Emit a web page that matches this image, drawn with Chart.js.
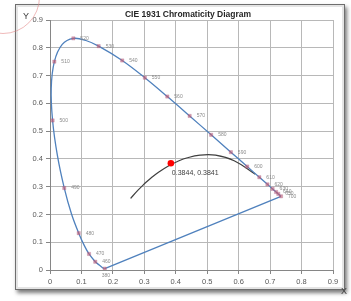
<!DOCTYPE html>
<html>
<head>
<meta charset="utf-8">
<script src="https://cdn.jsdelivr.net/npm/chart.js@4.4.0/dist/chart.umd.min.js"></script>
<style>
html, body { margin: 0; padding: 0; background: #fff; }
#wrap { position: relative; width: 351px; height: 301px; overflow: hidden; }
#frame { position: absolute; left: 15px; top: 4px; width: 328px; height: 284px; border: 1px solid #6e6e6e;
  box-shadow: inset 0 0 0 2px #e4e4e4, 2px 3px 4px #7a7a7a; background: #fff; }
#ring { position: absolute; left: -34px; top: -40px; width: 72px; height: 72px;
  border: 1px solid rgba(225,130,130,0.55); border-radius: 50%; }
canvas { position: absolute; left: 0; top: 0; }
</style>
</head>
<body>
<div id="wrap">
  <div id="frame"></div>
  <canvas id="chart" width="351" height="301"></canvas>
  <div id="ring"></div>
</div>
<script>
// spectral locus (nm, x, y)
const locusNm = [380, 390, 400, 410, 420, 430, 440, 450, 460, 470, 475, 480, 485, 490, 495, 500, 505, 510, 515, 520,
  525, 530, 540, 550, 560, 570, 580, 590, 600, 610, 620, 630, 640, 650, 660, 680, 700];
const locusX = [0.1741, 0.1738, 0.1733, 0.1726, 0.1714, 0.1689, 0.1644, 0.1566, 0.1440, 0.1241, 0.1096, 0.0913, 0.0687, 0.0454, 0.0235, 0.0082, 0.0039, 0.0139, 0.0389, 0.0743,
  0.1142, 0.1547, 0.2296, 0.3016, 0.3731, 0.4441, 0.5125, 0.5752, 0.6270, 0.6658, 0.6915, 0.7079, 0.7190, 0.7260, 0.7300, 0.7334, 0.7347];
const locusY = [0.0050, 0.0049, 0.0048, 0.0048, 0.0051, 0.0069, 0.0109, 0.0177, 0.0297, 0.0578, 0.0868, 0.1327, 0.2007, 0.2950, 0.4127, 0.5384, 0.6548, 0.7502, 0.8120, 0.8338,
  0.8262, 0.8059, 0.7543, 0.6923, 0.6245, 0.5547, 0.4866, 0.4242, 0.3725, 0.3340, 0.3083, 0.2920, 0.2809, 0.2740, 0.2700, 0.2666, 0.2653];

// labelled wavelength markers
const markerNm = [380, 460, 470, 480, 490, 500, 510, 520, 530, 540, 550, 560, 570, 580, 590, 600, 610, 620, 630, 640, 650, 700];
const markerX = [0.1741, 0.1440, 0.1241, 0.0913, 0.0454, 0.0082, 0.0139, 0.0743, 0.1547, 0.2296, 0.3016, 0.3731, 0.4441, 0.5125, 0.5752, 0.6270, 0.6658, 0.6915, 0.7079, 0.7190, 0.7260, 0.7347];
const markerY = [0.0050, 0.0297, 0.0578, 0.1327, 0.2950, 0.5384, 0.7502, 0.8338, 0.8059, 0.7543, 0.6923, 0.6245, 0.5547, 0.4866, 0.4242, 0.3725, 0.3340, 0.3083, 0.2920, 0.2809, 0.2740, 0.2653];

// planckian locus, 20000K down to 1000K
const planckX = [0.2565, 0.2637, 0.2807, 0.2952, 0.3064, 0.3221, 0.3451, 0.3805, 0.4053, 0.4369, 0.4770, 0.5265, 0.5857, 0.6528];
const planckY = [0.2574, 0.2673, 0.2883, 0.3048, 0.3166, 0.3318, 0.3516, 0.3768, 0.3907, 0.4041, 0.4137, 0.4133, 0.3931, 0.3444];

// measured point
const testX = [0.3844];
const testY = [0.3841];

const xTicks = [0, 0.1, 0.2, 0.3, 0.4, 0.5, 0.6, 0.7, 0.8, 0.9];
const yTicks = [0, 0.1, 0.2, 0.3, 0.4, 0.5, 0.6, 0.7, 0.8, 0.9];

const pts = (xs, ys) => xs.map((x, i) => ({ x: x, y: ys[i] }));
const last = locusX.length - 1;

const textPlugin = {
  id: 'texts',
  afterDatasetsDraw(chart) {
    const c = chart.ctx;
    const sx = chart.scales.x, sy = chart.scales.y;
    c.save();
    // wavelength labels
    c.font = '5px "Liberation Sans"';
    c.fillStyle = '#8a8a8a';
    c.textBaseline = 'middle';
    c.textAlign = 'left';
    markerNm.forEach((nm, i) => {
      const px = sx.getPixelForValue(markerX[i]);
      const py = sy.getPixelForValue(markerY[i]);
      if (nm === 380) c.fillText(nm, px - 3, py + 7);
      else c.fillText(nm, px + 7, py);
    });
    // measured point label
    c.font = '7px "Liberation Sans"';
    c.fillStyle = '#404040';
    c.fillText(testX[0] + ', ' + testY[0], sx.getPixelForValue(testX[0]) + 1, sy.getPixelForValue(testY[0]) + 10);
    // title
    c.font = 'bold 8.5px "Liberation Sans"';
    c.fillStyle = '#262626';
    c.textAlign = 'center';
    c.fillText('CIE 1931 Chromaticity Diagram', 188, 15);
    // axis letters
    c.font = '9px "Liberation Sans"';
    c.fillStyle = '#404040';
    c.fillText('Y', 26, 17);
    c.fillText('X', 344, 292);
    c.restore();
  }
};

const tickFmt = v => (v === 0 ? '0' : String(+v.toFixed(1)));

new Chart(document.getElementById('chart'), {
  type: 'scatter',
  data: {
    datasets: [
      { data: pts(testX, testY), pointRadius: 3.3, backgroundColor: '#ff0000', borderWidth: 0 },
      { data: pts(markerX, markerY), pointStyle: 'rect', pointRadius: 2.3, backgroundColor: 'rgba(200,90,110,0.6)',
        borderColor: 'rgba(160,100,140,0.6)', borderWidth: 0.5 },
      { data: pts(locusX, locusY), showLine: true, borderColor: '#4f81bd', borderWidth: 1.3, pointRadius: 0, tension: 0.35 },
      { data: [{ x: locusX[0], y: locusY[0] }, { x: locusX[last], y: locusY[last] }], showLine: true,
        borderColor: '#4f81bd', borderWidth: 1.3, pointRadius: 0 },
      { data: pts(planckX, planckY), showLine: true, borderColor: '#3f3f3f', borderWidth: 1.2, pointRadius: 0, tension: 0.4 }
    ]
  },
  options: {
    responsive: false,
    animation: false,
    events: [],
    layout: { padding: { top: 20, right: 18, left: 0, bottom: 0 } },
    plugins: { legend: { display: false }, tooltip: { enabled: false } },
    scales: {
      x: {
        type: 'linear', min: 0, max: 0.9,
        afterBuildTicks: s => { s.ticks = xTicks.map(v => ({ value: v })); },
        afterFit: s => { s.height = 31; },
        ticks: { callback: tickFmt, font: { size: 7.5, family: 'Liberation Sans' }, color: '#595959', padding: 3, maxRotation: 0, autoSkip: false },
        grid: { color: '#b8b8b8', tickColor: '#868686', tickLength: 4 },
        border: { color: '#868686' }
      },
      y: {
        type: 'linear', min: 0, max: 0.9,
        afterBuildTicks: s => { s.ticks = yTicks.map(v => ({ value: v })); },
        afterFit: s => { s.width = 50; },
        ticks: { callback: tickFmt, font: { size: 7.5, family: 'Liberation Sans' }, color: '#595959', padding: 3 },
        grid: { color: '#b8b8b8', tickColor: '#868686', tickLength: 4 },
        border: { color: '#868686' }
      }
    }
  },
  plugins: [textPlugin]
});
</script>
</body>
</html>
